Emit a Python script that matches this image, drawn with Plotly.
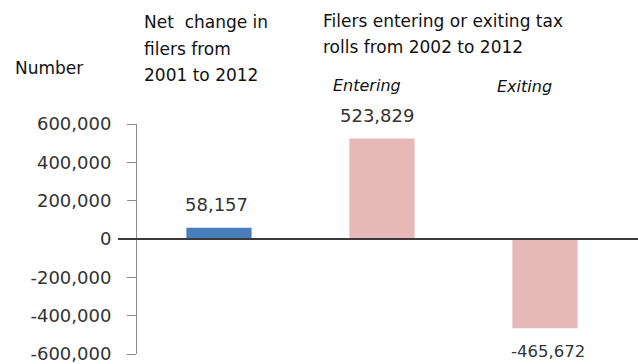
import plotly.graph_objects as go

# Data
categories = ["Net change", "Entering", "Exiting"]
values = [58157, 523829, -465672]
bar_colors = ["#4A7EBB", "#E6B9B8", "#E6B9B8"]
tick_vals = [-600000, -400000, -200000, 0, 200000, 400000, 600000]
tick_text = ["-600,000", "-400,000", "-200,000", "0", "200,000", "400,000", "600,000"]

W, H = 638, 364
L, R, T, B = 137, 0, 124, 8
PW, PH = W - L - R, H - T - B

def px(x):
    return (x - L) / PW

def py(y):
    return (H - B - y) / PH

FONT = "DejaVu Sans"
xs = list(range(len(categories)))
label_xshift = [-2, -5, 3]

fig = go.Figure()
fig.add_trace(go.Bar(
    x=xs, y=values, width=0.4,
    marker=dict(color=bar_colors, line=dict(width=0)),
    hoverinfo="skip",
))

annotations = []
# value labels
for i, v in enumerate(values):
    pos = v >= 0
    annotations.append(dict(x=i, y=v, xref="x", yref="y", text=f"{v:,}",
                            showarrow=False, xanchor="center",
                            yanchor="bottom" if pos else "top",
                            yshift=11 if pos else -12, xshift=label_xshift[i],
                            font=dict(family=FONT, size=18 if pos else 16.5, color="#333333")))

def label(text, x, yc, size=17, italic=False):
    annotations.append(dict(x=px(x), y=py(yc), xref="paper", yref="paper", text=text,
                            showarrow=False, xanchor="left", yanchor="middle",
                            font=dict(family=FONT, size=size, color="#111111",
                                      style="italic" if italic else "normal")))

label("Number", 13, 67.5)
label("Net  change in", 142, 21.5)
label("filers from", 142, 48.5)
label("2001 to 2012", 142, 74.5)
label("Filers entering or exiting tax", 321, 20)
label("rolls from 2002 to 2012", 321, 46.5)
label("Entering", 331, 85, size=16, italic=True)
label("Exiting", 495, 86.5, size=16, italic=True)

fig.update_layout(
    width=W, height=H,
    margin=dict(l=L, r=R, t=T, b=B, pad=0),
    paper_bgcolor="white", plot_bgcolor="white",
    showlegend=False,
    annotations=annotations,
    shapes=[dict(type="line", xref="paper", yref="y", x0=px(118), x1=1, y0=0, y1=0,
                 line=dict(color="#3A3A3A", width=2), layer="above")],
    xaxis=dict(range=[-0.503, 2.571], showticklabels=False, showgrid=False,
               zeroline=False, showline=False, ticks="", fixedrange=True),
    yaxis=dict(range=[-600000, 600000], tickvals=tick_vals, ticktext=tick_text,
               showgrid=False, zeroline=False, showline=True, linecolor="#8C8C8C",
               linewidth=1, ticks="outside", ticklen=9, tickcolor="#8C8C8C",
               tickwidth=1, ticklabelstandoff=12, ticklabeloverflow="allow",
               tickfont=dict(family=FONT, size=18, color="#333333"), fixedrange=True),
)

fig.write_html("out.html", config={"displayModeBar": False})
